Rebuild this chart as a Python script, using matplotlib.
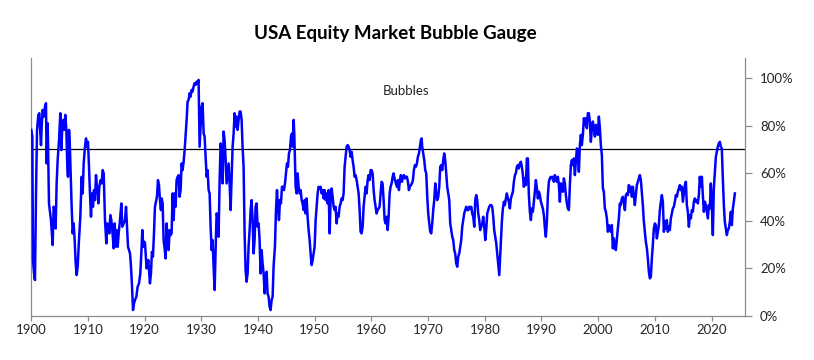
import matplotlib
matplotlib.use("Agg")
import matplotlib.pyplot as plt

# ---- data (year, bubble gauge %) ----
years = [
    1900.00, 1900.18, 1900.30, 1900.53, 1900.65, 1900.83, 1901.01, 1901.24, 1901.42, 1901.53,
    1901.71, 1901.83, 1902.00, 1902.24, 1902.42, 1902.59, 1902.71, 1902.89, 1903.00, 1903.12,
    1903.47, 1903.77, 1903.94, 1904.18, 1904.29, 1904.47, 1904.65, 1904.89, 1905.12, 1905.30,
    1905.47, 1905.65, 1905.83, 1906.00, 1906.18, 1906.36, 1906.47, 1906.65, 1906.77, 1906.94,
    1907.12, 1907.30, 1907.47, 1907.65, 1907.83, 1908.00, 1908.18, 1908.41, 1908.65, 1908.88,
    1909.06, 1909.24, 1909.47, 1909.65, 1909.82, 1910.00, 1910.18, 1910.35, 1910.53, 1910.71,
    1910.88, 1911.06, 1911.24, 1911.41, 1911.59, 1911.71, 1911.83, 1912.00, 1912.24, 1912.41,
    1912.59, 1912.77, 1913.00, 1913.24, 1913.41, 1913.59, 1913.77, 1913.94, 1914.12, 1914.29,
    1914.53, 1914.71, 1914.88, 1915.06, 1915.24, 1915.41, 1915.65, 1915.88, 1916.06, 1916.30,
    1916.53, 1916.71, 1916.88, 1917.06, 1917.24, 1917.41, 1917.59, 1917.77, 1917.94, 1918.12,
    1918.29, 1918.53, 1918.76, 1919.00, 1919.23, 1919.41, 1919.58, 1919.76, 1919.94,
    1920.05, 1920.34, 1920.64, 1920.93, 1921.11, 1921.28, 1921.46, 1921.64, 1921.81, 1921.99,
    1922.17, 1922.34, 1922.52, 1922.70, 1922.87, 1922.99, 1923.17, 1923.34, 1923.52, 1923.69,
    1923.87, 1924.05, 1924.22, 1924.40, 1924.58, 1924.75, 1924.93, 1925.11, 1925.28, 1925.46,
    1925.63, 1925.81, 1925.99, 1926.16, 1926.34, 1926.52, 1926.69, 1926.87, 1927.05, 1927.22,
    1927.40, 1927.57, 1927.75, 1927.93, 1928.10, 1928.28, 1928.46, 1928.63, 1928.81, 1928.99,
    1929.16, 1929.34, 1929.51, 1929.69, 1929.87, 1930.04, 1930.22, 1930.40, 1930.57, 1930.75,
    1930.93, 1931.10, 1931.28, 1931.46, 1931.63, 1931.81, 1931.98, 1932.16, 1932.34, 1932.51,
    1932.69, 1932.87, 1933.04, 1933.22, 1933.40, 1933.57, 1933.75, 1933.92, 1934.10, 1934.28,
    1934.45, 1934.63, 1934.81, 1934.98, 1935.16, 1935.34, 1935.51, 1935.69, 1935.86, 1936.04,
    1936.22, 1936.39, 1936.57, 1936.75, 1936.92, 1937.10, 1937.27, 1937.45, 1937.63, 1937.80,
    1937.98, 1938.16, 1938.33, 1938.51, 1938.69, 1938.86, 1939.04, 1939.21, 1939.39, 1939.57,
    1939.74, 1939.92, 1940.10, 1940.27, 1940.45, 1940.63, 1940.80, 1940.98, 1941.16, 1941.33,
    1941.51, 1941.68, 1941.86, 1942.04, 1942.21, 1942.39, 1942.57, 1942.74,
    1942.81, 1942.98, 1943.16, 1943.34, 1943.51, 1943.69, 1943.87, 1944.04, 1944.22, 1944.39,
    1944.57, 1944.75, 1944.92, 1945.10, 1945.28, 1945.45, 1945.63, 1945.81, 1945.98, 1946.16,
    1946.28, 1946.39, 1946.51, 1946.63, 1946.81, 1946.98, 1947.16, 1947.33, 1947.51, 1947.69,
    1947.86, 1948.04, 1948.22, 1948.39, 1948.57, 1948.74, 1948.92, 1949.10, 1949.27, 1949.45,
    1949.63, 1949.80, 1949.98, 1950.16, 1950.33, 1950.51, 1950.69, 1950.86, 1951.04, 1951.21,
    1951.39, 1951.57, 1951.74, 1951.92, 1952.10, 1952.27, 1952.45, 1952.63, 1952.80, 1952.98,
    1953.16, 1953.33, 1953.51, 1953.68, 1953.86, 1954.04, 1954.21, 1954.39, 1954.57, 1954.74,
    1954.92, 1955.09, 1955.27, 1955.45, 1955.62, 1955.80, 1955.98, 1956.15, 1956.33, 1956.51,
    1956.68, 1956.86, 1957.03, 1957.21, 1957.39, 1957.56, 1957.74, 1957.92, 1958.09, 1958.27,
    1958.45, 1958.62, 1958.80, 1958.97, 1959.15, 1959.33, 1959.50, 1959.68, 1959.86, 1960.03,
    1960.21, 1960.39, 1960.56, 1960.74, 1960.91, 1961.09, 1961.27, 1961.44, 1961.62, 1961.80,
    1961.97, 1962.15, 1962.33, 1962.50, 1962.68, 1962.86, 1963.03, 1963.21, 1963.38, 1963.56,
    1963.74, 1963.91,
    1963.97, 1964.14, 1964.32, 1964.50, 1964.67, 1964.85, 1965.03, 1965.20, 1965.38, 1965.55,
    1965.73, 1965.91, 1966.08, 1966.26, 1966.44, 1966.61, 1966.79, 1966.97, 1967.14, 1967.32,
    1967.49, 1967.67, 1967.85, 1968.02, 1968.20, 1968.38, 1968.55, 1968.73, 1968.85, 1968.96,
    1969.14, 1969.32, 1969.49, 1969.67, 1969.85, 1970.02, 1970.20, 1970.38, 1970.55, 1970.73,
    1970.90, 1971.08, 1971.26, 1971.43, 1971.61, 1971.79, 1971.96, 1972.14, 1972.31, 1972.49,
    1972.67, 1972.84, 1973.02, 1973.20, 1973.37, 1973.55, 1973.73, 1973.90, 1974.08, 1974.26,
    1974.43, 1974.61, 1974.78, 1974.96, 1975.14, 1975.31, 1975.49, 1975.67, 1975.84, 1976.02,
    1976.20, 1976.37, 1976.55, 1976.72, 1976.90, 1977.08, 1977.25, 1977.43, 1977.61, 1977.78,
    1977.96, 1978.14, 1978.31, 1978.49, 1978.66, 1978.84, 1979.02, 1979.19, 1979.37, 1979.55,
    1979.72, 1979.90, 1980.08, 1980.25, 1980.43, 1980.60, 1980.78, 1980.96, 1981.13, 1981.31,
    1981.49, 1981.66, 1981.84, 1982.02, 1982.19, 1982.37, 1982.55,
    1982.84, 1983.01, 1983.19, 1983.37, 1983.54, 1983.72, 1983.89, 1984.07, 1984.25, 1984.42,
    1984.60, 1984.78, 1984.95, 1985.13, 1985.31, 1985.48, 1985.66, 1985.83, 1986.01, 1986.19,
    1986.36, 1986.54, 1986.72, 1986.89, 1987.07, 1987.25, 1987.42, 1987.60, 1987.77, 1987.95,
    1988.13, 1988.30, 1988.48, 1988.66, 1988.83, 1989.01, 1989.19, 1989.36, 1989.54, 1989.71,
    1989.89, 1990.07, 1990.24, 1990.42, 1990.60, 1990.77, 1990.95, 1991.13, 1991.30, 1991.48,
    1991.65, 1991.83, 1992.01, 1992.18, 1992.36, 1992.54, 1992.71, 1992.89, 1993.07, 1993.24,
    1993.42, 1993.59, 1993.77, 1993.95, 1994.12, 1994.30, 1994.48, 1994.65, 1994.83, 1995.01,
    1995.18, 1995.36, 1995.53, 1995.71, 1995.89, 1996.06, 1996.24, 1996.42, 1996.59, 1996.77,
    1996.95, 1997.12, 1997.30, 1997.48, 1997.65, 1997.83, 1998.00, 1998.18, 1998.36, 1998.53,
    1998.71, 1998.89, 1999.06, 1999.24, 1999.42, 1999.59, 1999.77, 1999.94, 2000.12, 2000.30,
    2000.47, 2000.65, 2000.83, 2001.00, 2001.18, 2001.36, 2001.53, 2001.71, 2001.88, 2002.06,
    2002.24, 2002.41, 2002.59, 2002.77, 2002.94, 2003.12, 2003.30, 2003.47, 2003.65, 2003.82,
    2004.00, 2004.18, 2004.35, 2004.53, 2004.71, 2004.88, 2005.06, 2005.24, 2005.41, 2005.59,
    2005.76, 2005.94, 2006.12, 2006.29, 2006.47, 2006.65, 2006.82, 2007.00, 2007.18, 2007.35,
    2007.53, 2007.70, 2007.88, 2008.06, 2008.23, 2008.41, 2008.59, 2008.76, 2008.94, 2009.12,
    2009.29, 2009.47, 2009.64, 2009.82, 2010.00, 2010.17, 2010.35, 2010.53, 2010.70, 2010.88,
    2011.06, 2011.23, 2011.41, 2011.59,
    2011.76, 2011.94, 2012.11, 2012.29, 2012.47, 2012.64, 2012.82, 2013.00, 2013.17, 2013.35,
    2013.53, 2013.70, 2013.88, 2014.05, 2014.23, 2014.41, 2014.58, 2014.76, 2014.94, 2015.11,
    2015.29, 2015.47, 2015.64, 2015.82, 2016.00, 2016.17, 2016.35, 2016.52, 2016.70, 2016.88,
    2017.05, 2017.23, 2017.41, 2017.58, 2017.76, 2017.93, 2018.11, 2018.29, 2018.46, 2018.64,
    2018.82, 2018.99, 2019.17, 2019.35, 2019.52, 2019.70, 2019.87, 2020.05, 2020.23, 2020.40,
    2020.58, 2020.76, 2020.93, 2021.11, 2021.29, 2021.46, 2021.64, 2021.81, 2021.99, 2022.17,
    2022.34, 2022.52, 2022.70, 2022.87, 2023.05, 2023.23, 2023.40, 2023.58, 2023.76, 2023.93,
    2024.11,
]

gauge = [
    78.2, 75.4, 23.5, 16.5, 15.1, 51.5, 78.2, 84.5, 85.2, 79.6,
    71.8, 79.6, 86.6, 83.8, 88.0, 89.4, 64.1, 81.0, 64.1, 47.3,
    40.3, 29.8, 45.9, 44.5, 36.8, 55.7, 65.5, 73.9, 85.2, 69.7,
    79.6, 82.4, 78.2, 84.5, 78.2, 62.7, 58.5, 78.2, 73.9, 59.9,
    45.9, 34.7, 38.9, 31.9, 22.1, 17.2, 20.7, 31.9, 41.7, 58.5,
    51.5, 64.1, 71.1, 74.6, 71.1, 73.2, 62.7, 51.5, 41.7, 51.5,
    45.9, 52.9, 48.7, 59.2, 54.3, 52.9, 47.3, 54.3, 57.1, 55.7,
    61.3, 59.9, 40.3, 30.5, 38.9, 37.5, 34.7, 42.4, 40.3, 36.1,
    28.4, 38.9, 29.1, 36.1, 29.1, 34.7, 40.3, 47.3, 37.5, 38.9,
    40.3, 45.9, 37.5, 29.1, 27.7, 26.3, 20.7, 12.3, 2.5, 5.3,
    6.7, 8.1, 12.3, 13.7, 17.9, 26.3, 36.1, 29.1, 31.2,
    30.8, 20.0, 23.5, 13.7, 17.9, 27.0, 24.9, 34.7, 45.9, 48.0,
    50.1, 57.1, 55.0, 48.7, 44.5, 49.4, 47.3, 31.9, 28.4, 24.2,
    38.9, 31.9, 27.7, 36.1, 34.0, 34.7, 51.5, 40.3, 51.5, 45.9,
    57.1, 58.5, 59.2, 50.1, 52.9, 64.1, 61.3, 64.8, 69.7, 76.1,
    82.4, 90.1, 90.8, 93.6, 92.2, 95.0, 94.3, 96.4, 97.8, 97.1,
    98.5, 97.8, 99.2, 71.1, 79.6, 88.0, 89.4, 76.7, 75.4, 66.9,
    58.5, 61.3, 52.9, 51.5, 37.5, 27.7, 31.9, 20.7, 10.9, 27.7,
    43.1, 41.7, 33.3, 57.1, 72.5, 68.3, 55.7, 77.5, 73.9, 65.5,
    55.7, 59.9, 64.1, 55.7, 44.5, 58.5, 71.1, 76.7, 85.2, 79.6,
    83.8, 78.2, 82.4, 85.9, 85.9, 82.4, 71.1, 62.7, 34.7, 19.3,
    14.4, 17.9, 29.1, 36.1, 44.5, 48.7, 40.3, 26.3, 31.9, 45.9,
    47.3, 37.5, 38.9, 31.9, 17.9, 27.7, 22.1, 17.9, 9.5, 16.5,
    18.6, 9.5, 8.1, 3.9, 2.5, 6.7, 8.1, 20.7,
    23.5, 29.1, 44.5, 52.9, 45.9, 40.3, 48.7, 47.3, 54.3, 54.3,
    52.9, 55.7, 59.9, 64.1, 62.7, 68.3, 69.7, 75.4, 76.7, 71.1,
    82.4, 76.7, 65.5, 54.3, 51.5, 59.9, 54.3, 51.5, 52.9, 48.7,
    47.3, 44.5, 48.7, 43.1, 49.4, 41.7, 36.1, 31.9, 26.3, 21.4,
    23.5, 26.3, 29.1, 40.3, 45.9, 51.5, 54.3, 53.6, 54.3, 51.5,
    52.9, 49.4, 52.9, 48.7, 51.5, 47.3, 52.9, 34.7, 48.7, 53.6,
    50.1, 45.9, 44.5, 45.9, 38.9, 43.1, 41.7, 45.9, 47.3, 49.4,
    48.7, 51.5, 62.7, 66.9, 71.1, 71.8, 71.1, 69.7, 66.9, 69.0,
    65.5, 62.7, 58.5, 59.2, 57.1, 54.3, 51.5, 44.5, 35.4, 34.7,
    37.5, 45.9, 50.1, 54.3, 51.5, 57.1, 59.2, 57.1, 61.3, 61.3,
    59.9, 52.9, 48.7, 45.9, 43.1, 44.5, 45.2, 45.9, 51.5, 56.4,
    55.7, 48.7, 40.3, 38.9, 41.7, 36.1, 41.7, 51.5, 54.3, 55.7,
    58.5, 59.9,
    59.2, 57.1, 55.7, 54.3, 57.1, 52.9, 57.1, 59.2, 56.4, 58.5,
    59.2, 57.8, 58.5, 58.5, 56.4, 52.9, 54.3, 55.0, 55.7, 57.1,
    61.3, 63.4, 62.7, 64.1, 66.9, 68.3, 71.1, 73.9, 74.6, 71.1,
    68.3, 65.5, 61.3, 59.9, 50.1, 43.1, 38.9, 35.4, 34.7, 38.9,
    44.5, 48.7, 55.7, 51.5, 48.7, 50.1, 54.3, 62.7, 63.4, 61.3,
    65.5, 68.3, 65.5, 59.9, 54.3, 51.5, 48.7, 38.9, 36.1, 33.3,
    31.9, 27.7, 26.3, 22.1, 20.7, 24.9, 26.3, 29.1, 31.9, 37.5,
    40.3, 43.1, 44.5, 45.9, 44.5, 44.5, 45.9, 45.2, 45.9, 43.1,
    41.7, 37.5, 48.7, 50.8, 48.7, 43.1, 40.3, 36.1, 37.5, 38.9,
    41.7, 37.5, 31.9, 36.1, 43.1, 44.5, 45.9, 46.6, 46.6, 45.9,
    41.7, 36.1, 33.3, 30.5, 26.3, 22.1, 17.2,
    31.2, 39.6, 45.2, 48.0, 46.6, 49.4, 51.5, 49.4, 48.0, 45.2,
    49.4, 50.8, 52.2, 56.4, 59.2, 59.9, 62.7, 63.4, 62.0, 64.1,
    64.8, 62.7, 59.2, 54.3, 57.8, 55.0, 66.2, 66.2, 50.8, 43.8,
    40.3, 45.2, 43.8, 48.0, 52.2, 57.1, 53.6, 49.4, 52.2, 50.8,
    48.0, 46.6, 45.2, 42.4, 36.8, 33.3, 39.6, 50.8, 56.4, 57.8,
    58.5, 57.8, 58.5, 56.4, 59.2, 57.8, 56.4, 58.5, 55.0, 48.0,
    55.7, 55.0, 52.2, 57.8, 55.7, 50.8, 47.3, 45.2, 44.5, 55.0,
    63.4, 65.5, 63.4, 66.2, 59.2, 64.8, 70.4, 69.7, 60.6, 71.8,
    76.1, 71.8, 76.1, 83.1, 80.3, 83.1, 78.9, 85.2, 85.2, 81.7,
    73.2, 78.9, 81.7, 78.9, 75.4, 80.3, 78.9, 76.1, 83.8, 78.9,
    71.8, 67.6, 53.6, 52.2, 45.2, 43.8, 41.0, 35.4, 38.2, 37.5,
    35.4, 38.2, 28.4, 32.6, 28.4, 27.7, 32.6, 36.8, 41.0, 47.3,
    46.6, 49.4, 50.1, 48.0, 44.5, 50.8, 51.5, 50.8, 55.0, 52.2,
    54.3, 50.1, 54.3, 50.8, 46.6, 50.8, 55.0, 56.4, 57.8, 59.2,
    57.1, 52.2, 46.6, 39.6, 35.4, 31.2, 28.4, 24.2, 18.6, 15.8,
    16.5, 24.2, 29.8, 36.8, 38.9, 38.2, 32.6, 35.3, 38.2, 44.5,
    48.0, 50.8, 48.0, 35.4,
    39.6, 36.8, 40.3, 35.4, 37.5, 36.1, 41.0, 43.1, 45.2, 45.9,
    48.0, 50.8, 50.1, 52.2, 53.6, 55.0, 52.9, 54.3, 48.0, 51.5,
    55.0, 56.4, 46.6, 43.8, 37.5, 42.4, 41.0, 44.5, 43.8, 48.0,
    49.4, 48.0, 48.7, 47.3, 50.8, 58.5, 54.3, 58.5, 50.8, 43.8,
    48.0, 46.6, 43.8, 41.0, 46.6, 45.2, 55.7, 46.6, 34.0, 53.6,
    60.6, 66.9, 69.0, 71.1, 72.5, 73.2, 71.1, 70.4, 57.8, 46.6,
    39.6, 36.8, 34.0, 36.1, 36.8, 39.6, 43.8, 38.2, 45.2, 48.0,
    51.5,
]

threshold = 70
year_ticks = list(range(1900, 2030, 10))
pct_ticks = [0, 20, 40, 60, 80, 100]
pct_labels = [f"{p}%" for p in pct_ticks]
title = "USA Equity Market Bubble Gauge"
note = "Bubbles"

plt.rcParams["font.family"] = ["Lato", "DejaVu Sans"]

fig = plt.figure(figsize=(8.14, 3.6), dpi=100)
ax = fig.add_axes([31.3 / 814, 44 / 360, (745 - 31.3) / 814, (316 - 58) / 360])

ax.plot(years, gauge, color="#0000FF", lw=1.8, solid_joinstyle="round", zorder=3)
ax.axhline(threshold, color="black", lw=0.9, zorder=2)

ax.set_xlim(1900, 2025.9)
ax.set_ylim(0, 108.4)

ax.set_xticks(year_ticks)
ax.set_xticklabels([str(y) for y in year_ticks])
ax.yaxis.tick_right()
ax.set_yticks(pct_ticks)
ax.set_yticklabels(pct_labels)

ax.spines["top"].set_visible(False)
for s in ["left", "right", "bottom"]:
    ax.spines[s].set_color("#8c8c8c")
    ax.spines[s].set_linewidth(0.9)

ax.tick_params(axis="x", colors="#8c8c8c", labelcolor="#262626", labelsize=9.5,
               length=3.6, width=0.9, direction="out", pad=2)
ax.tick_params(axis="y", colors="#8c8c8c", labelcolor="#262626", labelsize=9.5,
               length=4.8, width=0.9, direction="out", pad=6)

ax.text(1966.1, 94.5, note, ha="center", va="center", fontsize=9.5, color="#262626")
fig.text(395 / 814, 1 - 33 / 360, title, ha="center", va="center",
         fontsize=13.5, fontweight="bold", color="black")

fig.savefig("out.png", dpi=100)
